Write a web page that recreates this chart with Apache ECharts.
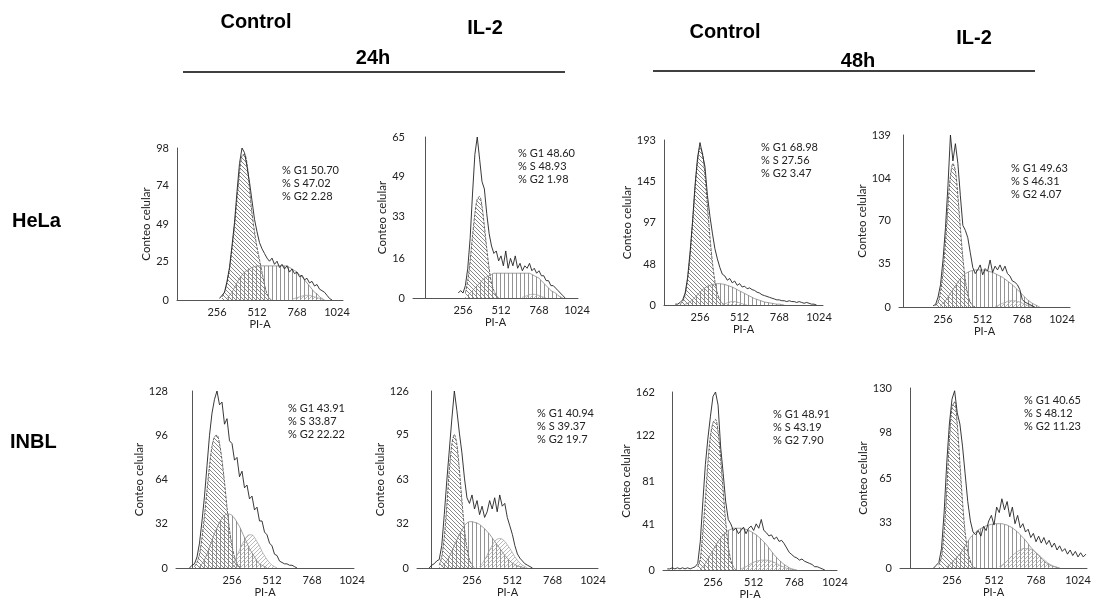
<!DOCTYPE html>
<html>
<head>
<meta charset="utf-8">
<script src="https://cdn.jsdelivr.net/npm/echarts@6/dist/echarts.min.js"></script>
<style>
  html, body { margin: 0; padding: 0; background: #fff; }
  #chart { width: 1095px; height: 603px; }
</style>
</head>
<body>
<div id="chart"></div>
<script>
// panel order: HeLa Ctl 24h, HeLa IL-2 24h, HeLa Ctl 48h, HeLa IL-2 48h, INBL Ctl 24h, INBL IL-2 24h, INBL Ctl 48h, INBL IL-2 48h
const columnTitles = ['Control', 'IL-2', 'Control', 'IL-2'];
const timeTitles = ['24h', '48h'];
const rowTitles = ['HeLa', 'INBL'];

const xTicks = [256, 512, 768, 1024];
const yTicks = [
  [0, 25, 49, 74, 98], [0, 16, 33, 49, 65], [0, 48, 97, 145, 193], [0, 35, 70, 104, 139],
  [0, 32, 64, 96, 128], [0, 32, 63, 95, 126], [0, 41, 81, 122, 162], [0, 33, 65, 98, 130]
];

const phaseText = [
  ['% G1 50.70', '% S 47.02', '% G2 2.28'],
  ['% G1 48.60', '% S 48.93', '% G2 1.98'],
  ['% G1 68.98', '% S 27.56', '% G2 3.47'],
  ['% G1 49.63', '% S 46.31', '% G2 4.07'],
  ['% G1 43.91', '% S 33.87', '% G2 22.22'],
  ['% G1 40.94', '% S 39.37', '% G2 19.7'],
  ['% G1 48.91', '% S 43.19', '% G2 7.90'],
  ['% G1 40.65', '% S 48.12', '% G2 11.23']
];

// every trace is sampled in 16-channel bins, starting at the channel given in the *From arrays
const binWidth = 16;

const histFrom = [272, 224, 96, 192, -16, -16, -32, 144];
const histogram = [
  [1,3,5,12,21,35,50,70,88,98,95,86,76,64,52,44,37,33,30,27,25,27,23,25,21,23,20,22,18,20,17,18,15,16,13,14,11,12,9,10,7,6,5,3,1,0],
  [2,3,2,5,12,24,42,58,65,56,47,44,34,26,21,18,19,15,17,13,19,12,16,13,17,12,14,11,13,12,14,11,12,10,11,9,9,7,7,5,5,4,3,2,1,0],
  [1,1,3,6,14,32,62,98,140,172,190,176,162,128,104,84,66,54,44,36,34,29,31,26,28,23,25,21,22,19,20,18,17,15,14,12,11,10,9,8,7,6,6,5,5,4,5,4,4,3,4,3,2,3,2,1,1,0],
  [1,2,8,18,38,64,98,139,118,132,116,90,66,62,56,44,32,27,30,34,26,31,29,38,28,33,30,34,29,33,27,25,21,20,18,14,6,4,3,2,1,0],
  [0,2,3,8,18,34,52,74,96,112,122,128,118,120,104,108,92,90,78,80,66,70,58,60,50,52,42,44,34,34,26,24,18,16,10,9,5,4,3,3,2,2,1,0],
  [0,2,3,5,6,16,38,62,84,106,126,112,96,82,64,50,46,52,42,48,38,44,36,40,48,42,50,40,52,44,46,36,30,24,16,10,7,5,3,2,1,0],
  [1,1,2,1,2,1,2,1,2,1,2,3,6,26,62,96,120,140,158,162,150,112,88,62,46,42,36,38,33,36,39,33,38,40,36,42,38,46,36,34,31,32,28,30,26,27,24,20,16,14,12,11,9,10,8,7,6,5,3,3,2,1,0],
  [0,2,4,14,40,76,104,122,128,112,104,88,68,48,34,26,24,27,23,30,27,34,38,31,44,40,50,42,48,37,44,32,38,29,32,26,28,22,25,19,23,18,22,17,20,15,18,13,16,12,14,10,13,9,12,8,11,8,10]
];

const g1From = [288, 272, 128, 208, 16, 48, 160, 176];
const fitG1 = [
  [2,5,11,20,33,48,65,82,93,94,88,72,56,44,34,26,18,10,4,1,0],
  [2,7,15,25,34,40,41,37,29,20,12,6,3,1,0],
  [1,4,12,30,58,96,136,168,184,178,152,116,80,50,28,14,6,2,0],
  [1,4,12,28,52,82,106,116,110,90,64,40,22,10,4,1,0],
  [1,4,10,22,38,56,74,88,95,96,90,78,62,44,28,16,8,3,1,0],
  [2,8,22,44,70,88,95,88,70,48,28,14,6,2,0],
  [3,10,35,64,98,122,134,137,126,102,72,44,22,9,3,0],
  [2,8,26,56,92,116,120,104,76,48,26,12,5,1,0]
];

const sFrom = [320, 288, 160, 240, 48, 64, 176, 224];
const fitS = [
  [1,3,5,8,11,14,16,18,19,20,21,21.5,22,22,22,22,22,22,22,22,22,22,22,22,22,21,20,19,18,16,15,13,11,9,7,5,4,2,1,0],
  [1,2,3,4,5,6,7,8,8.5,9,9.5,10,10,10,10,10,10,10,10,10,10,10,10,10,10,10,10,9.5,9,8.5,8,7,6,5,4,3,2.5,2,1,0.5,0],
  [1,2,4,6,9,12,15,18,20,22,23,24,24.5,25,25,24.5,24,23,22,21,19.5,18,16.5,15,13.5,12,10.5,9,7.5,6.5,5.5,4.5,3.5,3,2.5,2,1.5,1,1,0.5,0],
  [1,3,5,8,11,14,17,20,23,25,27,28,29,29.5,30,30,30,30,29.5,29,28.5,28,27,26,25,24,22.5,21,19.5,18,16,14,12,10,8,6,4.5,3,2,1,0],
  [1,3,6,10,15,20,25,29,33,36,38,39,39,38,36,33,30,26,22,18,14,11,8,5,3,2,1,0],
  [1,3,5,8,12,16,20,24,27,30,32,33,33,32.5,32,31,29.5,28,26,24,21.5,19,16.5,14,11.5,9,7,5,3.5,2.5,1.5,1,0.5,0],
  [1,3,6,10,14,18,22,26,29,32,34,36,37,38,38,38,38,37.5,37,36,35,33.5,32,30,28,25.5,23,20,17,14,11.5,9,7,5,3.5,2,1,0.5,0],
  [1,2,4,6,8,10,13,16,19,22,24,26,27.5,28.5,29.5,30.5,31,31.5,32,32,32,32,31.5,31,30,29,27.5,26,24,22,20,17.5,15,13,11,9,7,5,3.5,2.5,1.5,1,0.5,0]
];

const g2From = [736, 656, 400, 592, 256, 304, 432, 544];
const fitG2 = [
  [0.5,1,1.5,2,2.5,3,3,3,2.5,2,1.5,1,0.5,0],
  [0.3,0.6,1,1.3,1.5,1.5,1.3,1,0.6,0.3,0],
  [0.5,1.5,2.5,3.5,4,4,3.5,2.5,1.5,0.5,0],
  [0.5,1,2,3,3.5,4.5,5,5,5,4.5,4,3,2,1.5,1,0.5,0],
  [2,5,9,13,17,20,23,24,24,22,19,16,12,9,6,4,2,1,0],
  [1,3,6,9,13,16,19,20.5,21,20.5,19,16.5,14,11,8,5.5,3.5,2,1,0],
  [1,2,3,4.5,6,7,8,8.5,9,9,9,8.5,8,7,6,4.5,3.5,2.5,1.5,1,0.5,0],
  [1,2,3.5,5,7,9,10.5,12,13,14,14,14,13.5,12.5,11,9.5,8,6,4.5,3,2,1,0.5,0]
];

// layout per panel: [y axis x, x axis end, pixel of 256 label, pixel of 1024 label, top, zero line]
const layout = [
  [177, 343, 217, 337, 148, 300], [413, 578, 463, 577, 137, 298],
  [664, 823, 700, 819, 140, 305], [899, 1070, 943, 1062, 135, 307],
  [176, 354, 232, 352, 391, 568], [417, 598, 472, 593, 391, 568],
  [663, 837, 713, 835, 392, 570], [900, 1087, 952, 1078, 388, 568]
];
const textPos = [[282, 170], [518, 153], [761, 147], [1011, 168], [288, 408], [537, 413], [773, 414], [1024, 400]];

function hatch(kind, color) {
  const n = 4;
  const c = document.createElement('canvas');
  c.width = n; c.height = n;
  const g = c.getContext('2d');
  g.strokeStyle = color;
  g.lineWidth = 0.8;
  g.beginPath();
  if (kind === 'v') {
    g.moveTo(0.5, 0); g.lineTo(0.5, n);
  } else if (kind === 'back') {
    g.moveTo(-1, -1); g.lineTo(n + 1, n + 1);
    g.moveTo(-1, n - 1); g.lineTo(1, n + 1);
    g.moveTo(n - 1, -1); g.lineTo(n + 1, 1);
  } else {
    g.moveTo(-1, n + 1); g.lineTo(n + 1, -1);
    g.moveTo(-1, 1); g.lineTo(1, -1);
    g.moveTo(n - 1, n + 1); g.lineTo(n + 1, n - 1);
  }
  g.stroke();
  return { image: c, repeat: 'repeat' };
}

function pts(from, vals) {
  return vals.map((v, j) => [from + j * binWidth, v]);
}

const small = { fontFamily: 'Lato', fontSize: 11, color: '#222' };
const grid = [], xAxis = [], yAxis = [], series = [];

layout.forEach((L, i) => {
  const [x0, x1, p256, p1024, top, zero] = L;
  const k = (p1024 - p256) / 768;
  grid.push({ left: x0, top: top, width: x1 - x0, height: zero - top, containLabel: false });
  xAxis.push({
    gridIndex: i, type: 'value',
    min: 256 - (p256 - x0) / k, max: 1024 + (x1 - p1024) / k,
    axisLine: { onZero: false, lineStyle: { color: '#555', width: 1 } },
    axisTick: { show: false }, splitLine: { show: false },
    axisLabel: Object.assign({ customValues: xTicks, margin: 7, formatter: v => String(v) }, small),
    name: 'PI-A', nameLocation: 'middle', nameGap: 19, nameTextStyle: small
  });
  yAxis.push({
    gridIndex: i, type: 'value', min: 0, max: yTicks[i][yTicks[i].length - 1],
    axisLine: { show: true, lineStyle: { color: '#555', width: 1 } },
    axisTick: { show: false }, splitLine: { show: false },
    axisLabel: Object.assign({ customValues: yTicks[i], margin: 8, formatter: v => String(v) }, small),
    name: 'Conteo celular', nameLocation: 'middle', nameRotate: 90, nameGap: 22,
    nameTextStyle: Object.assign({}, small, { fontSize: 11.5 })
  });
  const base = { type: 'line', xAxisIndex: i, yAxisIndex: i, symbol: 'none', silent: true };
  series.push(Object.assign({}, base, {
    data: pts(g1From[i], fitG1[i]), smooth: 0.3, z: 2,
    lineStyle: { color: '#444', width: 0.8, type: [3, 1] },
    areaStyle: { color: hatch('back', '#6a6a6a'), opacity: 1 }
  }));
  series.push(Object.assign({}, base, {
    data: pts(sFrom[i], fitS[i]), smooth: 0.3, z: 3,
    lineStyle: { color: '#777', width: 0.7 },
    areaStyle: { color: hatch('v', '#777'), opacity: 1 }
  }));
  series.push(Object.assign({}, base, {
    data: pts(g2From[i], fitG2[i]), smooth: 0.3, z: 3,
    lineStyle: { color: '#999', width: 0.7 },
    areaStyle: { color: hatch('fwd', '#aaa'), opacity: 1 }
  }));
  series.push(Object.assign({}, base, {
    data: pts(histFrom[i], histogram[i]), z: 5,
    lineStyle: { color: '#222', width: 0.9 }
  }));
});

const bold = 'bold 20px "Liberation Sans", Arial, sans-serif';
const graphic = [];
[[256, 22], [485, 28], [725, 32], [974, 38]].forEach((p, j) => {
  graphic.push({ type: 'text', x: p[0], y: p[1],
    style: { text: columnTitles[j], font: bold, fill: '#000', align: 'center', verticalAlign: 'middle' } });
});
[[373, 58], [858, 61]].forEach((p, j) => {
  graphic.push({ type: 'text', x: p[0], y: p[1],
    style: { text: timeTitles[j], font: bold, fill: '#000', align: 'center', verticalAlign: 'middle' } });
});
[[183, 72, 565], [653, 71, 1035]].forEach(l => {
  graphic.push({ type: 'line', shape: { x1: l[0], y1: l[1], x2: l[2], y2: l[1] },
    style: { stroke: '#000', lineWidth: 1.6 } });
});
[[12, 221], [10, 442]].forEach((p, j) => {
  graphic.push({ type: 'text', x: p[0], y: p[1],
    style: { text: rowTitles[j], font: bold, fill: '#000', align: 'left', verticalAlign: 'middle' } });
});
textPos.forEach((p, i) => {
  graphic.push({ type: 'text', x: p[0], y: p[1] - 6,
    style: { text: phaseText[i].join('\n'), font: '11px Lato, sans-serif', fill: '#222',
      lineHeight: 13, align: 'left', verticalAlign: 'top' } });
});

const chart = echarts.init(document.getElementById('chart'), null, { renderer: 'canvas' });
chart.setOption({
  animation: false,
  backgroundColor: '#fff',
  grid: grid,
  xAxis: xAxis,
  yAxis: yAxis,
  series: series,
  graphic: graphic
});
</script>
</body>
</html>
